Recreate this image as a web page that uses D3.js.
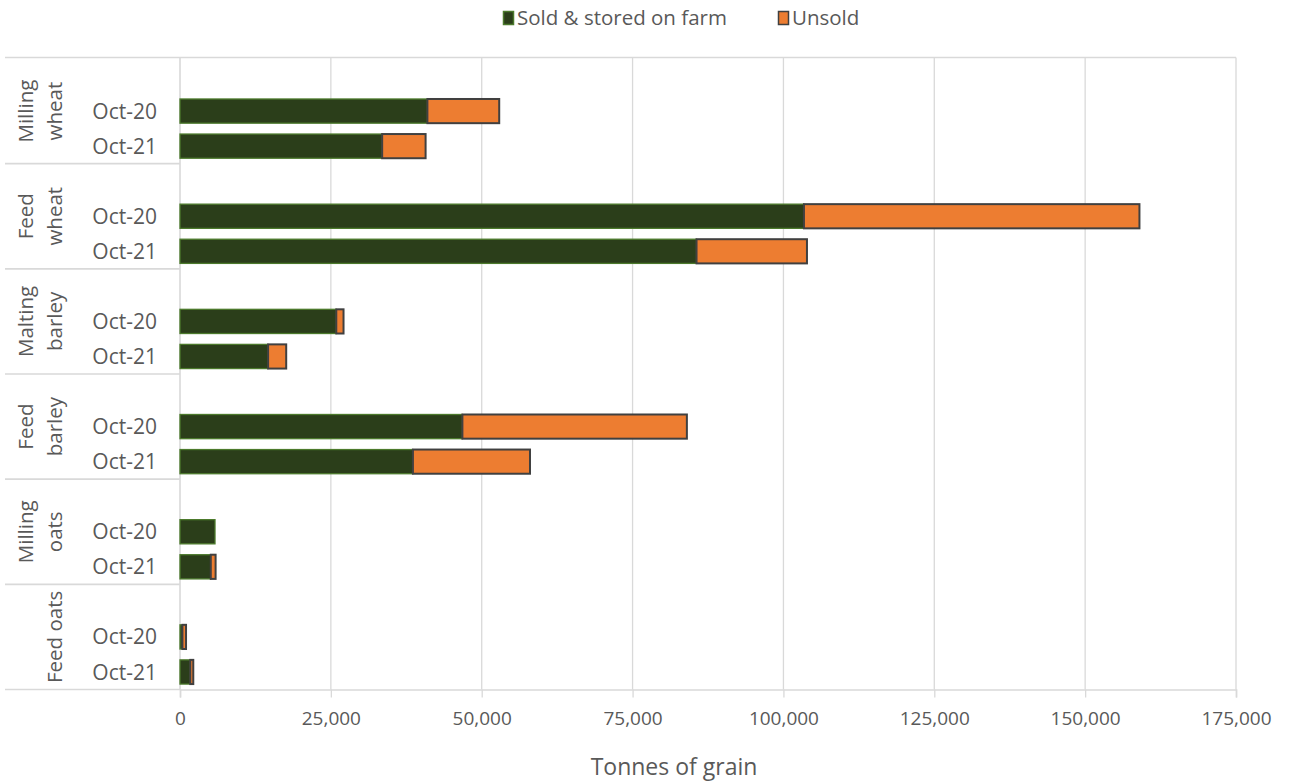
<!DOCTYPE html>
<html>
<head>
<meta charset="utf-8">
<script src="https://cdn.jsdelivr.net/npm/d3@7/dist/d3.min.js"></script>
<style>
  html, body { margin: 0; padding: 0; background: #fff; }
  svg { display: block; font-family: "Open Sans", sans-serif; }
</style>
</head>
<body>
<svg id="chart" width="1289" height="782"></svg>
<script>
// Grain crops, each with two survey dates
const crops = [["Milling", "wheat"], ["Feed", "wheat"], ["Malting", "barley"], ["Feed", "barley"], ["Milling", "oats"], ["Feed oats"]];
const periods = ["Oct-20", "Oct-21"];

// Tonnes of grain, one value per crop
const soldOct20   = [41000, 103400, 25900, 46800, 5800, 400];
const unsoldOct20 = [11900, 55600, 1200, 37200, 0, 600];
const soldOct21   = [33500, 85600, 14600, 38600, 5100, 1700];
const unsoldOct21 = [7200, 18300, 3000, 19400, 800, 500];

const xTicks = [0, 25000, 50000, 75000, 100000, 125000, 150000, 175000];
const seriesNames = ["Sold & stored on farm", "Unsold"];

const colors = {
  soldFill: "#2b3e1a", soldStroke: "#4c7a2c",
  unsoldFill: "#ed7d31", unsoldStroke: "#404040",
  grid: "#d9d9d9", text: "#595959"
};

const svg = d3.select("#chart");
const plotLeft = 180, plotRight = 1236, plotTop = 58.5, plotBottom = 689.5;

// One blank slot above each pair of bars, as in a grouped category axis
const rows = [];
crops.forEach((c, i) => {
  rows.push({ key: i + "-blank", crop: i, period: null });
  periods.forEach((p, j) => {
    const sold = j === 0 ? soldOct20[i] : soldOct21[i];
    const unsold = j === 0 ? unsoldOct20[i] : unsoldOct21[i];
    rows.push({ key: i + "-" + p, crop: i, period: p, sold, unsold });
  });
});

const x = d3.scaleLinear().domain([0, 175000]).range([plotLeft, plotRight]);
const y = d3.scaleBand().domain(rows.map(r => r.key)).range([plotTop, plotBottom])
  .paddingInner(0.31).paddingOuter(0.155);
const groupH = (plotBottom - plotTop) / crops.length;

// Vertical gridlines
svg.append("g").selectAll("line").data(xTicks.slice(1)).join("line")
  .attr("x1", d => x(d)).attr("x2", d => x(d))
  .attr("y1", plotTop - 1).attr("y2", plotBottom)
  .attr("stroke", colors.grid).attr("stroke-width", 1.3);

// Top border across label area and plot
svg.append("line").attr("x1", 5).attr("x2", plotRight).attr("y1", plotTop - 1).attr("y2", plotTop - 1)
  .attr("stroke", colors.grid).attr("stroke-width", 1.3);

// Group separators in the label area
svg.append("g").selectAll("line").data(d3.range(1, crops.length + 1)).join("line")
  .attr("x1", 5).attr("x2", plotLeft)
  .attr("y1", i => plotTop + i * groupH).attr("y2", i => plotTop + i * groupH)
  .attr("stroke", colors.grid).attr("stroke-width", 1.6);

// Vertical category axis line
svg.append("line").attr("x1", plotLeft).attr("x2", plotLeft).attr("y1", plotTop - 1).attr("y2", plotBottom)
  .attr("stroke", colors.grid).attr("stroke-width", 1.6);

// Bottom value axis
const xAxis = d3.axisBottom(x).tickValues(xTicks).tickSize(8).tickPadding(14)
  .tickFormat(d3.format(","));
const axG = svg.append("g").attr("transform", `translate(0,${plotBottom})`).call(xAxis);
axG.select(".domain").attr("stroke", colors.grid).attr("stroke-width", 1.6);
axG.selectAll(".tick line").attr("stroke", colors.grid).attr("stroke-width", 1.3);
axG.selectAll(".tick text").attr("fill", colors.text)
  .style("font-size", "19px").style("font-family", "'Open Sans', sans-serif");

// Stacked bars
const barRows = rows.filter(r => r.period);
svg.append("g").selectAll("rect").data(barRows).join("rect")
  .attr("x", d => x(0)).attr("y", d => y(d.key))
  .attr("width", d => x(d.sold) - x(0)).attr("height", y.bandwidth())
  .attr("fill", colors.soldFill).attr("stroke", colors.soldStroke).attr("stroke-width", 1.3);
svg.append("g").selectAll("rect").data(barRows.filter(d => d.unsold > 0)).join("rect")
  .attr("x", d => x(d.sold)).attr("y", d => y(d.key))
  .attr("width", d => x(d.sold + d.unsold) - x(d.sold)).attr("height", y.bandwidth())
  .attr("fill", colors.unsoldFill).attr("stroke", colors.unsoldStroke).attr("stroke-width", 2);

// Period labels
svg.append("g").selectAll("text").data(barRows).join("text")
  .attr("x", 157).attr("y", d => y(d.key) + y.bandwidth() / 2)
  .attr("dy", "0.36em").attr("text-anchor", "end")
  .attr("fill", colors.text).style("font-size", "21px")
  .text(d => d.period);

// Crop labels, rotated
crops.forEach((lines, i) => {
  const cy = plotTop + (i + 0.5) * groupH;
  const xs = lines.length === 2 ? [33, 62] : [62];
  lines.forEach((t, k) => {
    svg.append("text")
      .attr("transform", `translate(${xs[k]},${cy}) rotate(-90)`)
      .attr("text-anchor", "middle")
      .attr("fill", colors.text).style("font-size", "20.5px")
      .text(t);
  });
});

// Axis title
svg.append("text").attr("x", (plotLeft + plotRight) / 2 - 34).attr("y", 775)
  .attr("text-anchor", "middle").attr("fill", colors.text).style("font-size", "23px")
  .text("Tonnes of grain");

// Legend
const legend = [
  { name: seriesNames[0], fill: colors.soldFill, stroke: colors.soldStroke, x: 503 },
  { name: seriesNames[1], fill: colors.unsoldFill, stroke: colors.unsoldStroke, x: 778 }
];
const lg = svg.append("g").selectAll("g").data(legend).join("g");
lg.append("rect").attr("x", d => d.x + 0.5).attr("y", 11.5).attr("width", 10).attr("height", 13)
  .attr("fill", d => d.fill).attr("stroke", d => d.stroke).attr("stroke-width", 1.5);
lg.append("text").attr("x", d => d.x + 14).attr("y", 18).attr("dy", "0.36em")
  .attr("fill", colors.text).style("font-size", "20.5px").text(d => d.name);
</script>
</body>
</html>
